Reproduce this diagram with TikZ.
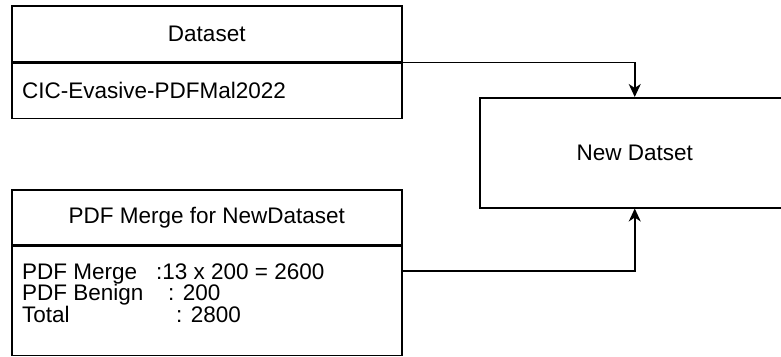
\documentclass[tikz,border=0pt]{standalone}
\usepackage{fontspec}
\setmainfont{Liberation Sans}
\usetikzlibrary{arrows.meta}

\tikzset{
  box/.style={draw=black, line width=1.5pt, fill=white, inner sep=0pt, font=\fontsize{22.5}{21.5}\selectfont},
  flow/.style={draw=black, line width=1.5pt, -{Stealth[length=13pt, width=12pt, inset=4pt]}},
  label/.style={inner sep=0pt, font=\fontsize{22.5}{21.5}\selectfont, align=left}
}

\begin{document}
\begin{tikzpicture}[x=1pt, y=-1pt]
  \useasboundingbox (0,0) rectangle (781,356);

  % source dataset
  \node[box, anchor=north west, minimum width=390pt, minimum height=56pt] (dshead) at (11,5) {Dataset};
  \node[box, anchor=north west, minimum width=390pt, minimum height=55pt] (dsbody) at (dshead.south west) {};
  \node[label, anchor=west] (dstext) at ([xshift=11pt]dsbody.west) {CIC-Evasive-PDFMal2022};

  % merged samples
  \node[box, anchor=north west, minimum width=390pt, minimum height=55pt] (mghead) at (11,189) {PDF Merge for NewDataset};
  \node[box, anchor=north west, minimum width=390pt, minimum height=109pt] (mgbody) at (mghead.south west) {};
  \node[label, anchor=west] (mgtext) at ([xshift=11pt, yshift=8pt]mgbody.west)
    {\makebox[134pt][l]{PDF Merge}:13 x 200 = 2600\\
     \makebox[146pt][l]{PDF Benign}: 200\\
     \makebox[154pt][l]{Total}: 2800};

  % resulting dataset
  \node[box, anchor=north west, minimum width=310pt, minimum height=110pt] (newds) at (479,97) {New Datset};

  % connectors
  \draw[flow] (dshead.south east) -| (newds.north);
  \coordinate (mgout) at (401,271);
  \draw[flow] (mgout) -| (newds.south);
\end{tikzpicture}
\end{document}
